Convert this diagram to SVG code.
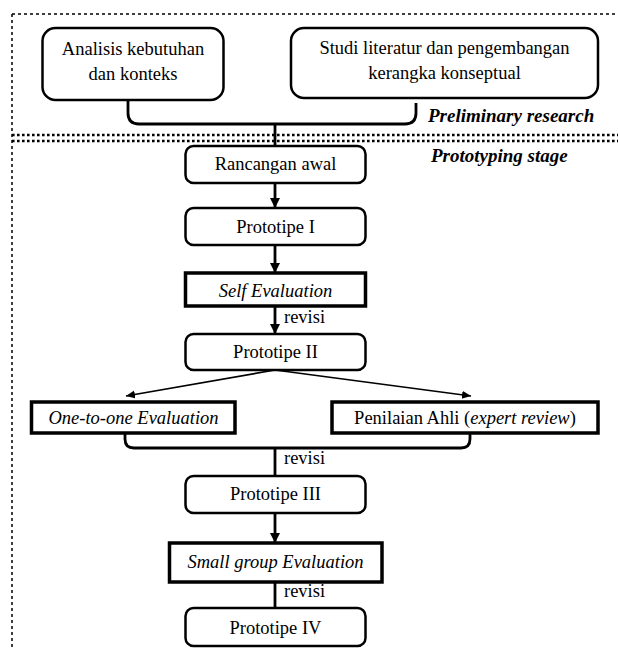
<svg xmlns="http://www.w3.org/2000/svg" width="618" height="650" viewBox="0 0 618 650" font-family="'Liberation Serif', 'Times New Roman', 'DejaVu Serif', serif">
<defs>
<style>
text{font-family:'Liberation Serif','Times New Roman','DejaVu Serif',serif}
.t{font-size:18.5px;fill:#000;text-anchor:middle}
.i{font-style:italic}
.lbl{font-size:19px;font-weight:bold;font-style:italic;fill:#000}
.rv{font-size:18.5px;fill:#000}
.rb{fill:#fff;stroke:#000;stroke-width:2.5}
.sb{fill:#fff;stroke:#000;stroke-width:3.5}
.c{fill:none;stroke:#000;stroke-width:2.8}
.ct{fill:none;stroke:#000;stroke-width:1.6}
.dot{fill:none;stroke:#000;stroke-width:1.5;stroke-dasharray:3 3}
.dot2{fill:none;stroke:#000;stroke-width:2.6;stroke-dasharray:2.6 2.4}
</style>
<marker id="ah" markerUnits="userSpaceOnUse" markerWidth="10" markerHeight="11" refX="10" refY="5" orient="auto">
<path d="M0,0 L10,5 L0,10 Z" fill="#000"/>
</marker>
<marker id="ah2" markerUnits="userSpaceOnUse" markerWidth="10" markerHeight="10" refX="9" refY="4" orient="auto">
<path d="M0,0 L9,4 L0,8 Z" fill="#000"/>
</marker>
</defs>
<rect width="618" height="650" fill="#fff"/>
<g id="frame">
<line class="dot" x1="12" y1="14" x2="618" y2="14"/>
<line class="dot" x1="12" y1="14" x2="12" y2="650"/>
<line class="dot2" x1="12" y1="135" x2="618" y2="135"/>
<line class="dot2" x1="12" y1="141" x2="618" y2="141"/>
<text class="lbl" x="428" y="122">Preliminary research</text>
<text class="lbl" x="431" y="162">Prototyping stage</text>
</g>
<g id="connectors">
<path class="c" d="M128,100 V113 Q128,124 139,124 H405 Q416,124 416,113 V103"/>
<line class="c" x1="275" y1="124" x2="275" y2="146"/>
<line class="c" x1="275" y1="183" x2="275" y2="208" marker-end="url(#ah)"/>
<line class="c" x1="275" y1="245" x2="275" y2="273" marker-end="url(#ah)"/>
<line class="c" x1="275" y1="306" x2="275" y2="334" marker-end="url(#ah)"/>
<line class="ct" x1="275" y1="370" x2="126" y2="396" marker-end="url(#ah2)"/>
<line class="ct" x1="275" y1="370" x2="471" y2="396" marker-end="url(#ah2)"/>
<path class="c" d="M125,433 V439 Q125,448 134,448 H461 Q470,448 470,439 V433"/>
<line class="c" x1="275" y1="448" x2="275" y2="476"/>
<line class="c" x1="275" y1="513" x2="275" y2="543" marker-end="url(#ah)"/>
<line class="c" x1="275" y1="582" x2="275" y2="608"/>
<text class="rv" x="284" y="323">revisi</text>
<text class="rv" x="284" y="464">revisi</text>
<text class="rv" x="284" y="597">revisi</text>
</g>
<g id="n1">
<rect class="rb" x="42.5" y="28" width="181" height="72" rx="13"/>
<text class="t" x="133" y="55">Analisis kebutuhan</text>
<text class="t" x="133" y="80">dan konteks</text>
</g>
<g id="n2">
<rect class="rb" x="291" y="28" width="307" height="70" rx="13"/>
<text class="t" x="444.5" y="54">Studi literatur dan pengembangan</text>
<text class="t" x="444.5" y="79">kerangka konseptual</text>
</g>
<g id="n3">
<rect class="rb" x="185.5" y="146" width="180" height="37" rx="8"/>
<text class="t" x="275.5" y="170">Rancangan awal</text>
</g>
<g id="n4">
<rect class="rb" x="185.5" y="208" width="180" height="37" rx="8"/>
<text class="t" x="275.5" y="233">Prototipe I</text>
</g>
<g id="n5">
<rect class="sb" x="185.5" y="273" width="180" height="33"/>
<text class="t i" x="275.5" y="297">Self Evaluation</text>
</g>
<g id="n6">
<rect class="rb" x="185.5" y="334" width="180" height="36" rx="8"/>
<text class="t" x="275.5" y="358">Prototipe II</text>
</g>
<g id="n7">
<rect class="sb" x="31.5" y="402" width="203.5" height="31"/>
<text class="t i" x="133.5" y="424">One-to-one Evaluation</text>
</g>
<g id="n8">
<rect class="sb" x="332" y="402" width="266" height="31"/>
<text class="t" x="465" y="424">Penilaian Ahli (<tspan font-style="italic">expert review</tspan>)</text>
</g>
<g id="n9">
<rect class="rb" x="185.5" y="476" width="180" height="37" rx="8"/>
<text class="t" x="275.5" y="500">Prototipe III</text>
</g>
<g id="n10">
<rect class="sb" x="169.5" y="543" width="212.5" height="39"/>
<text class="t i" x="275.5" y="568">Small group Evaluation</text>
</g>
<g id="n11">
<rect class="rb" x="185.5" y="608" width="180" height="38" rx="8"/>
<text class="t" x="275.5" y="634">Prototipe IV</text>
</g>
</svg>
